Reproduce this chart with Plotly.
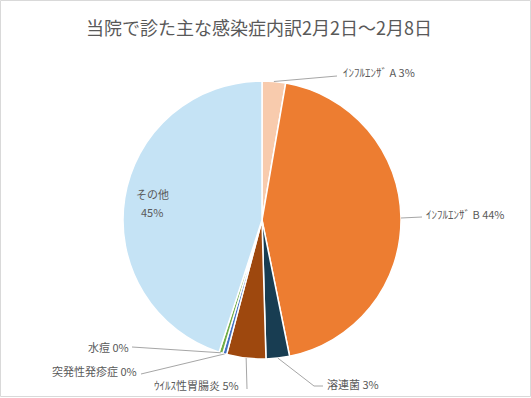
import math
import plotly.graph_objects as go

# ---- data ----
categories = ["ｲﾝﾌﾙｴﾝｻﾞ A", "ｲﾝﾌﾙｴﾝｻﾞ B", "溶連菌", "ｳｲﾙｽ性胃腸炎", "突発性発疹症", "水痘", "その他"]
counts = [6, 97, 6, 10, 1, 1, 99]
colors = ["#F8CBAD", "#ED7D31", "#183D52", "#9E480E", "#4472C4", "#70AD47", "#C5E3F5"]
title_text = "当院で診た主な感染症内訳2月2日～2月8日"

W, H = 531, 398
CX, CY, R = 262, 220, 139   # pie centre / radius in pixels

def px(x):
    return x / W

def py(y):
    return 1 - y / H

total = sum(counts)
pcts = [round(c / total * 100) for c in counts]

fig = go.Figure(go.Pie(
    labels=categories,
    values=counts,
    sort=False,
    direction="clockwise",
    rotation=0,
    marker=dict(colors=colors, line=dict(color="white", width=1.5)),
    textinfo="none",
    hoverinfo="label+percent",
    showlegend=False,
    domain=dict(x=[px(CX - R), px(CX + R)], y=[py(CY + R), py(CY - R)]),
))

# label layout: (text anchor x, y, xanchor, bend points of leader after slice edge)
label_layout = {
    0: dict(tx=341, ty=72, xa="left", path=[(337, 76)]),
    1: dict(tx=424, ty=214, xa="left", path=[(422, 217)]),
    2: dict(tx=325, ty=384, xa="left", path=[(314, 386), (323, 386)]),
    3: dict(tx=241, ty=385, xa="right", path=[(247, 389)]),
    4: dict(tx=139, ty=371, xa="right", path=[(141, 374)]),
    5: dict(tx=131, ty=347, xa="right", path=[(132, 347)]),
}

shapes = []
annotations = []
cum = 0
label_font = dict(family="Noto Sans CJK JP", size=11, color="#595959")
for i, (cat, c, p) in enumerate(zip(categories, counts, pcts)):
    mid = (cum + c / 2) / total * 2 * math.pi
    cum += c
    if i in label_layout:
        L = label_layout[i]
        ex = CX + R * math.sin(mid)
        ey = CY - R * math.cos(mid)
        pts = [(ex, ey)] + L["path"]
        for (x0, y0), (x1, y1) in zip(pts[:-1], pts[1:]):
            shapes.append(dict(type="line", xref="paper", yref="paper",
                               x0=px(x0), y0=py(y0), x1=px(x1), y1=py(y1),
                               line=dict(color="#A6A6A6", width=1)))
        annotations.append(dict(x=px(L["tx"]), y=py(L["ty"]), xref="paper", yref="paper",
                                text=f"{cat} {p}%", showarrow=False,
                                xanchor=L["xa"], yanchor="middle", font=label_font))
    else:
        annotations.append(dict(x=px(152), y=py(194), xref="paper", yref="paper",
                                text=cat, showarrow=False, xanchor="center",
                                yanchor="middle", font=label_font))
        annotations.append(dict(x=px(152), y=py(212), xref="paper", yref="paper",
                                text=f"{p}%", showarrow=False, xanchor="center",
                                yanchor="middle", font=label_font))

annotations.append(dict(x=px(259), y=py(27), xref="paper", yref="paper",
                        text=title_text, showarrow=False, xanchor="center", yanchor="middle",
                        font=dict(family="Noto Sans CJK JP", size=18, color="#595959")))

shapes.append(dict(type="rect", xref="paper", yref="paper",
                   x0=px(0.5), y0=py(396.5), x1=px(530.5), y1=py(0.5),
                   line=dict(color="#D9D9D9", width=1)))

fig.update_layout(
    width=W, height=H,
    margin=dict(l=0, r=0, t=0, b=0),
    paper_bgcolor="white", plot_bgcolor="white",
    shapes=shapes, annotations=annotations,
)

fig.write_html("out.html", config={"displayModeBar": False},
               post_script="document.body.style.margin='0';document.body.style.overflow='hidden';")
